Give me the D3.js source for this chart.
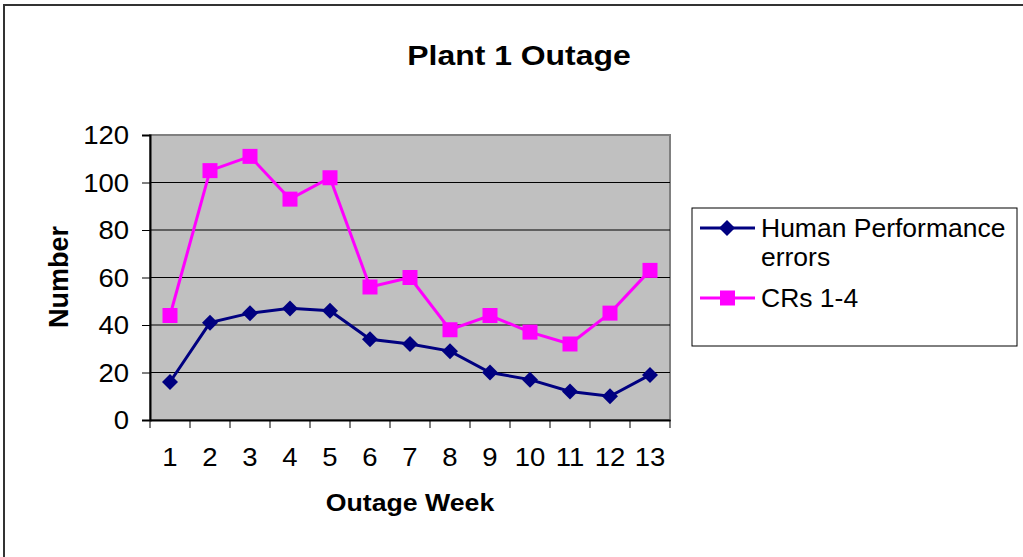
<!DOCTYPE html>
<html>
<head>
<meta charset="utf-8">
<script src="https://cdn.jsdelivr.net/npm/d3@7"></script>
<style>
  body { margin: 0; background: #fff; }
  svg { display: block; font-family: "Liberation Sans", Arial, sans-serif; }
</style>
</head>
<body>
<svg width="1023" height="557"></svg>
<script>
(function() {
    'use strict';
    var weeks = [1, 2, 3, 4, 5, 6, 7, 8, 9, 10, 11, 12, 13];
    var humanErrors = [16, 41, 45, 47, 46, 34, 32, 29, 20, 17, 12, 10, 19];
    var crs = [44, 105, 111, 93, 102, 56, 60, 38, 44, 37, 32, 45, 63];
    var yTicks = [0, 20, 40, 60, 80, 100, 120];
    var seriesNames = ["Human Performance", "errors", "CRs 1-4"];

    var svg = d3.select("svg");

    // text in the original is a bit wider than Liberation Sans
    function widen(sel, sx) {
        sel.each(function() {
            var t = d3.select(this);
            var tx = +t.attr("x") || 0, ty = +t.attr("y") || 0;
            t.attr("x", 0).attr("y", 0)
             .attr("transform", "translate(" + tx + "," + ty + ") scale(" + sx + ",1)");
        });
    }

    // outer chart border
    svg.append("rect")
        .attr("x", 4).attr("y", 5)
        .attr("width", 1030).attr("height", 600)
        .attr("fill", "none")
        .attr("stroke", "#333")
        .attr("stroke-width", 2);

    var left = 150, right = 670, top = 135, bottom = 420;

    var x = d3.scaleBand()
        .domain(weeks)
        .range([left, right]);

    var y = d3.scaleLinear()
        .domain([0, 120])
        .range([bottom, top]);

    // plot area
    svg.append("rect")
        .attr("x", left).attr("y", top)
        .attr("width", right - left).attr("height", bottom - top)
        .attr("fill", "#c0c0c0")
        .attr("stroke", "#808080")
        .attr("stroke-width", 2);

    // gridlines
    svg.append("g")
        .selectAll("line")
        .data(yTicks.filter(function(d) { return d > 0 && d < 120; }))
        .enter().append("line")
        .attr("x1", left).attr("x2", right)
        .attr("y1", function(d) { return y(d); })
        .attr("y2", function(d) { return y(d); })
        .attr("stroke", "#000")
        .attr("stroke-width", 1);

    // y axis
    var gy = svg.append("g")
        .attr("transform", "translate(" + left + ",0)")
        .call(d3.axisLeft(y).tickValues(yTicks).tickSize(8).tickPadding(13));
    gy.select(".domain").attr("stroke", "#000").attr("stroke-width", 2);
    gy.selectAll(".tick line").attr("stroke", "#000");
    gy.selectAll("text")
        .attr("font-size", 25)
        .attr("font-family", "Liberation Sans, Arial, sans-serif")
        .attr("fill", "#000")
        .attr("dy", "0.35em");
    widen(gy.selectAll("text"), 1.1);

    // x axis
    var gx = svg.append("g")
        .attr("transform", "translate(0," + bottom + ")")
        .call(d3.axisBottom(x).tickSize(0).tickPadding(28));
    gx.select(".domain").attr("stroke", "#000").attr("stroke-width", 2);
    gx.selectAll("text")
        .attr("font-size", 25)
        .attr("font-family", "Liberation Sans, Arial, sans-serif")
        .attr("fill", "#000");
    widen(gx.selectAll("text"), 1.1);
    // tick marks between categories
    gx.selectAll(".sep")
        .data(weeks.concat([null]))
        .enter().append("line")
        .attr("class", "sep")
        .attr("x1", function(d, i) { return left + i * x.bandwidth(); })
        .attr("x2", function(d, i) { return left + i * x.bandwidth(); })
        .attr("y1", 0).attr("y2", 8)
        .attr("stroke", "#000");

    // title and axis titles
    var title = svg.append("text")
        .attr("x", 519).attr("y", 65)
        .attr("text-anchor", "middle")
        .attr("font-weight", "bold")
        .attr("font-size", 28)
        .text("Plant 1 Outage");
    widen(title, 1.14);

    var xTitle = svg.append("text")
        .attr("x", 410).attr("y", 511)
        .attr("text-anchor", "middle")
        .attr("font-weight", "bold")
        .attr("font-size", 23)
        .text("Outage Week");
    widen(xTitle, 1.16);

    svg.append("text")
        .attr("transform", "translate(68,277) rotate(-90)")
        .attr("text-anchor", "middle")
        .attr("font-weight", "bold")
        .attr("font-size", 27)
        .text("Number");

    var cx = function(d, i) { return x(weeks[i]) + x.bandwidth() / 2; };
    var line = d3.line()
        .x(function(d, i) { return cx(d, i); })
        .y(function(d) { return y(d); });

    var diamond = "M0,-8L8,0L0,8L-8,0Z";

    // CRs series
    svg.append("path")
        .datum(crs)
        .attr("d", line)
        .attr("fill", "none")
        .attr("stroke", "#ff00ff")
        .attr("stroke-width", 3);
    svg.append("g").selectAll("rect")
        .data(crs)
        .enter().append("rect")
        .attr("x", function(d, i) { return cx(d, i) - 7.5; })
        .attr("y", function(d) { return y(d) - 7.5; })
        .attr("width", 15).attr("height", 15)
        .attr("fill", "#ff00ff");

    // human errors series
    svg.append("path")
        .datum(humanErrors)
        .attr("d", line)
        .attr("fill", "none")
        .attr("stroke", "#000080")
        .attr("stroke-width", 3);
    svg.append("g").selectAll("path")
        .data(humanErrors)
        .enter().append("path")
        .attr("d", diamond)
        .attr("transform", function(d, i) { return "translate(" + cx(d, i) + "," + y(d) + ")"; })
        .attr("fill", "#000080");

    // legend
    var legend = svg.append("g");
    legend.append("rect")
        .attr("x", 692).attr("y", 208)
        .attr("width", 325).attr("height", 138)
        .attr("fill", "#fff")
        .attr("stroke", "#000")
        .attr("stroke-width", 1);

    legend.append("line")
        .attr("x1", 700).attr("x2", 755)
        .attr("y1", 228).attr("y2", 228)
        .attr("stroke", "#000080").attr("stroke-width", 3);
    legend.append("path")
        .attr("d", diamond)
        .attr("transform", "translate(727,228)")
        .attr("fill", "#000080");

    var legendText = legend.selectAll(".lt")
        .data([[seriesNames[0], 237], [seriesNames[1], 266], [seriesNames[2], 307]])
        .enter().append("text")
        .attr("class", "lt")
        .attr("x", 761)
        .attr("y", function(d) { return d[1]; })
        .attr("font-size", 25)
        .text(function(d) { return d[0]; });
    widen(legendText, 1.06);

    legend.append("line")
        .attr("x1", 700).attr("x2", 755)
        .attr("y1", 298).attr("y2", 298)
        .attr("stroke", "#ff00ff").attr("stroke-width", 3);
    legend.append("rect")
        .attr("x", 720).attr("y", 290.5)
        .attr("width", 15).attr("height", 15)
        .attr("fill", "#ff00ff");
}());
</script>
</body>
</html>
